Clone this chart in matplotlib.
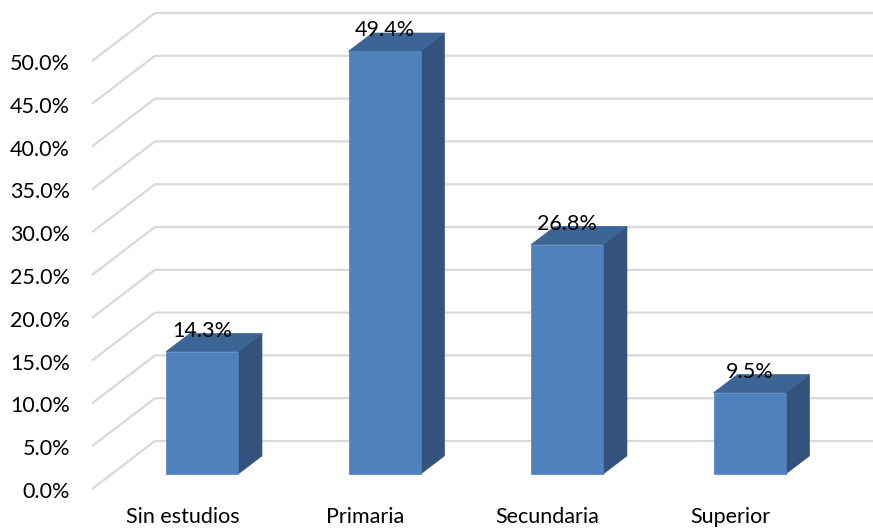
import matplotlib
matplotlib.use("Agg")
import matplotlib.pyplot as plt
from matplotlib.patches import Polygon

categories = ["Sin estudios", "Primaria", "Secundaria", "Superior"]
values = [14.3, 49.4, 26.8, 9.5]
value_labels = ["14.3%", "49.4%", "26.8%", "9.5%"]
yticks = [0, 5, 10, 15, 20, 25, 30, 35, 40, 45, 50]
ytick_labels = ["%.1f%%" % t for t in yticks]

W, H = 873, 529
fig = plt.figure(figsize=(W / 100, H / 100), dpi=100)
ax = fig.add_axes([0, 0, 1, 1])

px_per_cat = 182.5
x0_px = 202.0
px_per_pct = 8.56
y0_px = 489.0
ax.set_xlim(-x0_px / px_per_cat, (W - x0_px) / px_per_cat)
ax.set_ylim((y0_px - H) / px_per_pct, y0_px / px_per_pct)
ax.axis("off")

# oblique depth projection (full depth of the floor)
DX = 63.0 / px_per_cat
DY = 48.0 / px_per_pct

def proj(x, y, z):
    return (x + z * DX, y + z * DY)

FS = 15.5
FAM = "Lato"
TXT_DY = -3.0 / px_per_pct  # small downward nudge of text
grid_c = "#d9d9d9"
front_x = (92 - x0_px) / px_per_cat
right_x = (W + 5 - x0_px) / px_per_cat
for t, lab in zip(yticks, ytick_labels):
    p0 = proj(front_x, t, 0)
    p1 = proj(front_x, t, 1)
    ax.plot([p0[0], p1[0], right_x], [p0[1], p1[1], p1[1]], color=grid_c, lw=1.6,
            solid_capstyle="butt", solid_joinstyle="miter", zorder=1)
    ax.text((70 - x0_px) / px_per_cat, t + TXT_DY, lab, ha="right", va="center",
            fontsize=FS, family=FAM, color="#000000")

front_c = "#4f81bd"
top_c = "#3c6494"
side_c = "#33537c"
bw = 72.0 / px_per_cat
z0, z1 = 0.31, 0.69
shift = z0 * DX  # bars sit at depth z0; front centre lands on category position
for i, (v, lab, cat) in enumerate(zip(values, value_labels, categories)):
    xl = i - bw / 2 - shift
    xr = xl + bw
    side = [proj(xr, 0, z0), proj(xr, 0, z1), proj(xr, v, z1), proj(xr, v, z0)]
    top = [proj(xl, v, z0), proj(xr, v, z0), proj(xr, v, z1), proj(xl, v, z1)]
    front = [proj(xl, 0, z0), proj(xr, 0, z0), proj(xr, v, z0), proj(xl, v, z0)]
    for poly, c in ((side, side_c), (top, top_c), (front, front_c)):
        ax.add_patch(Polygon(poly, closed=True, facecolor=c, edgecolor=c, lw=0.5, zorder=3))
    ax.text(i, v + z0 * DY + 2.8 + TXT_DY, lab, ha="center", va="center",
            fontsize=FS, family=FAM, color="#000000", zorder=4)
    ax.text(i - shift, (y0_px - 517) / px_per_pct, cat, ha="center", va="center",
            fontsize=FS, family=FAM, color="#000000")

fig.savefig("out.png", dpi=100)
